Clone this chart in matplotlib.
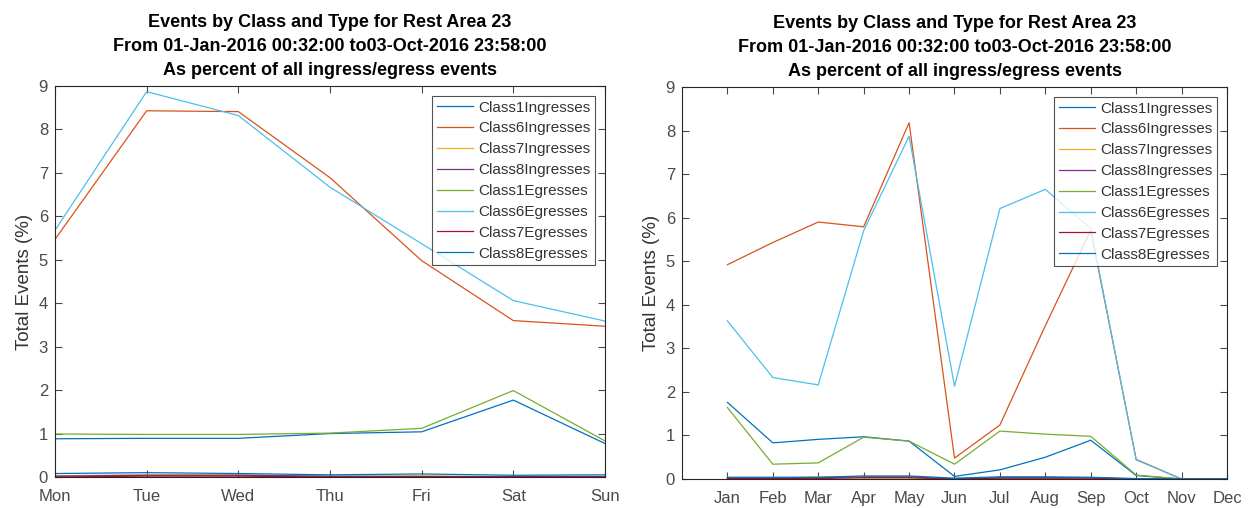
import numpy as np
import matplotlib
matplotlib.use("Agg")
import matplotlib.pyplot as plt

plt.rcParams['font.family'] = ['Liberation Sans', 'DejaVu Sans']

series_names = ["Class1Ingresses", "Class6Ingresses", "Class7Ingresses", "Class8Ingresses",
                "Class1Egresses", "Class6Egresses", "Class7Egresses", "Class8Egresses"]
colors = ['#0072BD', '#D95319', '#EDB120', '#7E2F8E', '#77AC30', '#4DBEEE', '#A2142F', '#0072BD']

days = ["Mon", "Tue", "Wed", "Thu", "Fri", "Sat", "Sun"]
day_c1_in = [0.88, 0.89, 0.89, 1.00, 1.04, 1.77, 0.77]
day_c6_in = [5.47, 8.43, 8.41, 6.89, 4.98, 3.60, 3.47]
day_c7_in = [0.03, 0.05, 0.05, 0.01, 0.03, 0.00, 0.00]
day_c8_in = [0.02, 0.04, 0.04, 0.02, 0.01, 0.01, 0.01]
day_c1_eg = [0.99, 0.98, 0.98, 1.01, 1.12, 1.99, 0.83]
day_c6_eg = [5.68, 8.87, 8.32, 6.67, 5.37, 4.06, 3.59]
day_c7_eg = [0.00, 0.02, 0.02, 0.00, 0.00, 0.00, 0.00]
day_c8_eg = [0.08, 0.10, 0.08, 0.05, 0.07, 0.04, 0.05]

months = ["Jan", "Feb", "Mar", "Apr", "May", "Jun", "Jul", "Aug", "Sep", "Oct", "Nov", "Dec"]
mon_c1_in = [1.76, 0.83, 0.91, 0.97, 0.87, 0.06, 0.21, 0.50, 0.89, 0.08, 0.0, 0.0]
mon_c6_in = [4.92, 5.43, 5.90, 5.79, 8.18, 0.48, 1.24, 3.52, 5.71, 0.45, 0.0, 0.0]
mon_c7_in = [0.02, 0.02, 0.05, 0.02, 0.02, 0.00, 0.02, 0.02, 0.02, 0.0, 0.0, 0.0]
mon_c8_in = [0.03, 0.03, 0.03, 0.05, 0.05, 0.00, 0.03, 0.03, 0.03, 0.0, 0.0, 0.0]
mon_c1_eg = [1.64, 0.34, 0.37, 0.96, 0.87, 0.34, 1.10, 1.03, 0.98, 0.09, 0.0, 0.0]
mon_c6_eg = [3.63, 2.33, 2.16, 5.70, 7.87, 2.13, 6.21, 6.65, 5.75, 0.44, 0.0, 0.0]
mon_c7_eg = [0.01, 0.01, 0.01, 0.03, 0.03, 0.00, 0.02, 0.02, 0.02, 0.0, 0.0, 0.0]
mon_c8_eg = [0.04, 0.04, 0.04, 0.07, 0.07, 0.02, 0.05, 0.05, 0.04, 0.01, 0.0, 0.0]

day_data = [day_c1_in, day_c6_in, day_c7_in, day_c8_in, day_c1_eg, day_c6_eg, day_c7_eg, day_c8_eg]
mon_data = [mon_c1_in, mon_c6_in, mon_c7_in, mon_c8_in, mon_c1_eg, mon_c6_eg, mon_c7_eg, mon_c8_eg]

title = ("Events by Class and Type for Rest Area 23\n"
         "From 01-Jan-2016 00:32:00 to03-Oct-2016 23:58:00\n"
         "As percent of all ingress/egress events")

W, H = 1253, 508
fig = plt.figure(figsize=(W / 100, H / 100), dpi=100)
# axes boxes in pixels: left, right, top, bottom
ax1 = fig.add_axes([55 / W, 1 - 477 / H, (605 - 55) / W, (477 - 86) / H])
ax2 = fig.add_axes([682 / W, 1 - 479 / H, (1227 - 682) / W, (479 - 87) / H])

gray = '#262626'
for ax, data, labels, xlim in [(ax1, day_data, days, (1, 7)), (ax2, mon_data, months, (0, 12))]:
    x = np.arange(1, len(labels) + 1)
    for vals, name, c in zip(data, series_names, colors):
        ax.plot(x, vals, color=c, lw=0.9, label=name)
    ax.set_xlim(*xlim)
    ax.set_ylim(0, 9)
    ax.set_xticks(x)
    ax.set_xticklabels(labels)
    ax.set_yticks(range(10))
    ax.tick_params(direction='in', top=True, right=True, labelsize=12, colors='#4a4a4a',
                   length=5, width=0.8)
    ax.tick_params(axis='x', pad=8.5)
    ax.tick_params(axis='y', pad=5)
    for sp in ax.spines.values():
        sp.set_color(gray)
        sp.set_linewidth(0.8)
    ax.set_ylabel("Total Events (%)", fontsize=13.5, color='#333333', labelpad=4)
    ax.set_title(title, fontsize=13, fontweight='bold', linespacing=1.55, pad=8)
    leg = ax.legend(loc='upper right', fontsize=11, frameon=True, fancybox=False,
                    edgecolor=gray, handlelength=2.4, handletextpad=0.33,
                    labelspacing=0.45, borderpad=0.3, borderaxespad=0.65)
    leg.get_frame().set_linewidth(0.8)
    for t in leg.get_texts():
        t.set_color('#333333')

fig.savefig("out.png", dpi=100)
